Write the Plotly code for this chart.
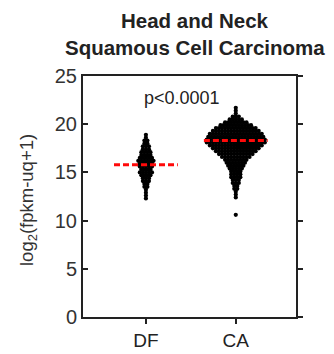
import plotly.graph_objects as go

# ---- data ----
groups = ["DF", "CA"]
group_pos = [1, 2]

# DF: expression level bins and number of samples in each bin
df_levels = [18.9, 18.6, 18.3, 18.0, 17.7, 17.4, 17.1, 16.8, 16.5, 16.2, 15.9, 15.6,
             15.3, 15.0, 14.7, 14.4, 14.1, 13.8, 13.5, 13.2, 12.9, 12.6, 12.3]
df_counts = [1, 1, 2, 2, 3, 3, 4, 4, 5, 6, 5, 5,
             4, 5, 4, 3, 3, 2, 2, 1, 1, 1, 1]

# CA: expression level bins and number of samples in each bin
ca_levels = [21.7, 21.4, 21.1, 20.8, 20.5, 20.2, 19.9, 19.6, 19.3, 19.0, 18.7, 18.4,
             18.1, 17.8, 17.5, 17.2, 16.9, 16.6, 16.3, 16.0, 15.7, 15.4, 15.1, 14.8,
             14.5, 14.2, 13.9, 13.6, 13.3, 13.0, 12.7, 12.4, 10.6]
ca_counts = [1, 1, 1, 3, 5, 8, 11, 14, 16, 18, 19, 20,
             20, 18, 16, 14, 12, 10, 8, 7, 6, 5, 4, 4,
             4, 3, 3, 2, 2, 1, 1, 1, 1]

medians = [15.8, 18.3]
p_text = "p<0.0001"
title_lines = ["Head and Neck", "Squamous Cell Carcinoma"]
y_title = "log<sub>2</sub>(fpkm-uq+1)"
y_ticks = [0, 5, 10, 15, 20, 25]

FONT = "Liberation Sans, Arial, sans-serif"

# page body has an 8px default margin -> compensate
OFF = 8
W, H = 334 - OFF, 354 - OFF
L, T = 83 - OFF, 76 - OFF
R = W - (296 - OFF)
B = H - (317 - OFF)
PW = W - L - R
PH = H - T - B


def swarm(center, levels, counts, spacing=0.034):
    xs, ys = [], []
    for lv, n in zip(levels, counts):
        for i in range(n):
            xs.append(center + (i - (n - 1) / 2) * spacing)
            ys.append(lv)
    return xs, ys


fig = go.Figure()

for pos, lv, ct in [(group_pos[0], df_levels, df_counts), (group_pos[1], ca_levels, ca_counts)]:
    xs, ys = swarm(pos, lv, ct)
    fig.add_trace(go.Scatter(x=xs, y=ys, mode="markers",
                             marker=dict(color="black", size=4.2, line=dict(width=0)),
                             showlegend=False, hoverinfo="skip"))

for pos, m in zip(group_pos, medians):
    fig.add_trace(go.Scatter(x=[pos - 0.355, pos + 0.355], y=[m, m], mode="lines",
                             line=dict(color="#ff0a0a", width=3, dash="6px,3px"),
                             showlegend=False, hoverinfo="skip"))

# invisible trace for right axis
fig.add_trace(go.Scatter(x=[1], y=[0], yaxis="y2", mode="markers",
                         marker=dict(opacity=0), showlegend=False, hoverinfo="skip"))

fig.add_annotation(x=1.405, y=22.67, text=p_text, showarrow=False,
                   font=dict(family=FONT, size=18, color="#222"))

# title lines (target centres in window pixels: y=21 and y=48, x=195)
for txt, ypix in zip(title_lines, [21, 48]):
    fig.add_annotation(xref="paper", yref="paper", x=(195 - 83) / PW,
                       y=1 + (76 - ypix) / PH,
                       text="<b>" + txt + "</b>", showarrow=False,
                       xanchor="center", yanchor="middle",
                       font=dict(family=FONT, size=20.5, color="#222"))

# y axis title
fig.add_annotation(xref="paper", yref="paper", x=(28 - 83) / PW, y=(317 - 200) / PH,
                   text=y_title, textangle=-90, showarrow=False,
                   xanchor="center", yanchor="middle",
                   font=dict(family=FONT, size=18.5, color="#333"))

fig.update_layout(
    width=W, height=H,
    margin=dict(l=L, r=R, t=T, b=B, autoexpand=False),
    paper_bgcolor="white", plot_bgcolor="white",
    xaxis=dict(range=[0.3, 2.67], tickvals=group_pos, ticktext=groups,
               automargin=False,
               ticks="outside", ticklen=5, tickwidth=1.5, tickcolor="#222",
               showline=True, linewidth=2, linecolor="#222", mirror=True,
               showgrid=False, zeroline=False,
               tickfont=dict(family=FONT, size=19, color="#222")),
    yaxis=dict(range=[0, 25], tickvals=y_ticks, automargin=False,
               ticks="inside", ticklen=5, tickwidth=1.5, tickcolor="#222",
               showline=True, linewidth=2, linecolor="#222",
               showgrid=False, zeroline=False,
               tickfont=dict(family=FONT, size=20, color="#333")),
    yaxis2=dict(range=[0, 25], tickvals=y_ticks, overlaying="y", side="right",
                automargin=False,
                ticks="outside", ticklen=5, tickwidth=1.5, tickcolor="#222",
                showline=True, linewidth=2, linecolor="#222",
                showticklabels=False, showgrid=False, zeroline=False),
)

fig.write_html("out.html")
